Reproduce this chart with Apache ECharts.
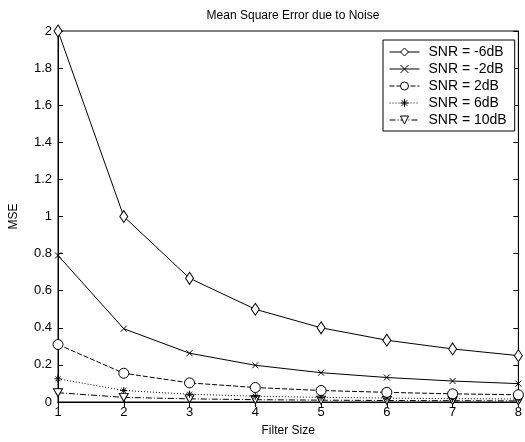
<!DOCTYPE html>
<html><head><meta charset="utf-8">
<script src="https://cdn.jsdelivr.net/npm/echarts@6/dist/echarts.min.js"></script>
<style>html,body{margin:0;padding:0;background:#fff}#c{width:525px;height:442px}</style>
</head><body><div id="c"></div>
<script>
const filterSizes = [1, 2, 3, 4, 5, 6, 7, 8];
const seriesNames = ['SNR = -6dB', 'SNR = -2dB', 'SNR = 2dB', 'SNR = 6dB', 'SNR = 10dB'];
const mseM6 = [2.0, 1.0, 0.667, 0.5, 0.4, 0.333, 0.286, 0.25];
const mseM2 = [0.79, 0.395, 0.263, 0.198, 0.158, 0.132, 0.113, 0.099];
const mseP2 = [0.31, 0.155, 0.103, 0.078, 0.062, 0.052, 0.044, 0.039];
const mseP6 = [0.125, 0.062, 0.042, 0.031, 0.025, 0.021, 0.018, 0.016];
const mseP10 = [0.05, 0.025, 0.017, 0.0125, 0.01, 0.008, 0.007, 0.006];
const yTicks = [0, 0.2, 0.4, 0.6, 0.8, 1, 1.2, 1.4, 1.6, 1.8, 2];

const FONT = 'Liberation Sans, Arial, sans-serif';
const pts = arr => filterSizes.map((x, i) => [x, arr[i]]);

const styles = [
  {data: mseM6, symbol: 'diamond', size: [8, 12], dash: 'solid', fill: '#fff'},
  {data: mseM2, symbol: 'path://M0,0L10,10M10,0L0,10', size: 6, dash: 'solid', fill: 'none'},
  {data: mseP2, symbol: 'circle', size: 10, dash: [5, 2], fill: '#fff'},
  {data: mseP6, symbol: 'path://M5,0L5,10M0,5L10,5M1.5,1.5L8.5,8.5M8.5,1.5L1.5,8.5', size: 7, dash: [1, 2], fill: 'none'},
  {data: mseP10, symbol: 'path://M0,0L10,0L5,9Z', size: [9, 8], dash: [6, 2, 1, 2], fill: '#fff'}
];

const series = styles.map((s, i) => ({
  name: seriesNames[i],
  type: 'line',
  data: pts(s.data),
  symbol: s.symbol,
  symbolSize: s.size,
  showAllSymbol: true,
  lineStyle: {color: '#000', width: 1, type: s.dash},
  itemStyle: {color: s.fill, borderColor: '#000', borderWidth: 1},
  emphasis: {disabled: true},
  animation: false,
  z: 10 - i
}));

const chart = echarts.init(document.getElementById('c'));
chart.setOption({
  backgroundColor: '#fff',
  animation: false,
  title: {
    text: 'Mean Square Error due to Noise',
    left: 288, top: 5, textAlign: 'center',
    textStyle: {fontFamily: FONT, fontSize: 12, fontWeight: 'normal', color: '#000'}
  },
  legend: {
    orient: 'vertical',
    left: 383, top: 40,
    itemWidth: 30, itemHeight: 10, itemGap: 3,
    padding: [5, 8, 4, 6],
    backgroundColor: '#fff',
    borderColor: '#000', borderWidth: 1, borderRadius: 0,
    lineStyle: {width: 1},
    itemStyle: {borderWidth: 1},
    textStyle: {fontFamily: FONT, fontSize: 14, color: '#000', padding: [0, 0, 0, 4]},
    data: seriesNames
  },
  grid: {left: 54, right: 1, top: 31, bottom: 40, show: true, borderColor: '#000', borderWidth: 1, backgroundColor: 'transparent'},
  xAxis: [{
    type: 'value', min: 1, max: 8, interval: 1,
    name: 'Filter Size', nameLocation: 'middle', nameGap: 23,
    nameTextStyle: {fontFamily: FONT, fontSize: 12, color: '#000'},
    axisLine: {lineStyle: {color: '#000'}},
    axisTick: {inside: true, length: 5, lineStyle: {color: '#000'}},
    axisLabel: {fontFamily: FONT, fontSize: 13, color: '#000', margin: 4},
    splitLine: {show: false}
  }, {
    type: 'value', min: 1, max: 8, interval: 1, position: 'top',
    axisLine: {lineStyle: {color: '#000'}},
    axisTick: {inside: true, length: 5, lineStyle: {color: '#000'}},
    axisLabel: {show: false}, splitLine: {show: false}
  }],
  yAxis: [{
    type: 'value', min: 0, max: 2, interval: 0.2,
    name: 'MSE', nameLocation: 'middle', nameGap: 38,
    nameTextStyle: {fontFamily: FONT, fontSize: 12, color: '#000'},
    axisLine: {show: true, lineStyle: {color: '#000'}},
    axisTick: {show: true, inside: true, length: 5, lineStyle: {color: '#000'}},
    axisLabel: {fontFamily: FONT, fontSize: 13, color: '#000', margin: 6,
      formatter: v => { const t = yTicks.find(k => Math.abs(k - v) < 1e-9); return t === undefined ? '' : String(t); }},
    splitLine: {show: false}
  }, {
    type: 'value', min: 0, max: 2, interval: 0.2, position: 'right',
    axisLine: {show: true, lineStyle: {color: '#000'}},
    axisTick: {show: true, inside: true, length: 5, lineStyle: {color: '#000'}},
    axisLabel: {show: false}, splitLine: {show: false}
  }],
  series: series
});
</script></body></html>
